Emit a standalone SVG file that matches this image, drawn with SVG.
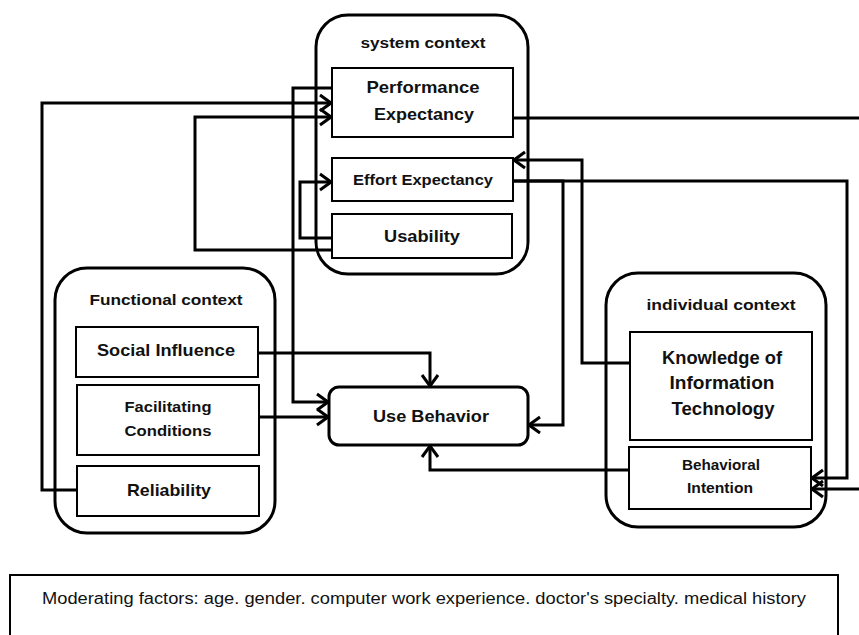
<svg xmlns="http://www.w3.org/2000/svg" width="859" height="635" viewBox="0 0 859 635">
<style>
.ctx{fill:#fff;stroke:#000;stroke-width:3}
.box{fill:#fff;stroke:#000;stroke-width:2}
.ub{fill:#fff;stroke:#000;stroke-width:3}
.c{fill:none;stroke:#000;stroke-width:3;stroke-linejoin:miter}
.t{font-family:"Liberation Sans",Arial,sans-serif;font-weight:bold;fill:#111;text-anchor:middle}
.m{font-family:"Liberation Sans",Arial,sans-serif;fill:#111}
</style>
<defs>
<marker id="ah" markerUnits="userSpaceOnUse" markerWidth="15" markerHeight="20" viewBox="0 0 15 20" refX="13" refY="10" orient="auto">
<path d="M2,2 L13,10 L2,18" fill="none" stroke="#000" stroke-width="3"/>
</marker>
</defs>
<g id="system-context">
<rect class="ctx" x="316" y="15" width="212" height="259" rx="32"/>
<text class="t" x="423" y="48" font-size="14" textLength="125" lengthAdjust="spacingAndGlyphs">system context</text>
</g>
<g id="functional-context">
<rect class="ctx" x="55" y="268" width="220" height="265" rx="32"/>
<text class="t" x="166" y="305" font-size="15" textLength="153" lengthAdjust="spacingAndGlyphs">Functional  context</text>
</g>
<g id="individual-context">
<rect class="ctx" x="606" y="273" width="220" height="254" rx="32"/>
<text class="t" x="721" y="310" font-size="15" textLength="149" lengthAdjust="spacingAndGlyphs">individual  context</text>
</g>
<g id="connectors">
<path class="c" d="M77,490 H42 V103 H331" marker-end="url(#ah)"/>
<path class="c" d="M332,250 H195 V117 H331" marker-end="url(#ah)"/>
<path class="c" d="M332,88 H293 V402 H328" marker-end="url(#ah)"/>
<path class="c" d="M332,238 H300 V182 H331" marker-end="url(#ah)"/>
<path class="c" d="M630,363 H582 V160 H514" marker-end="url(#ah)"/>
<path class="c" d="M513,181 H563 V425 H529" marker-end="url(#ah)"/>
<path class="c" d="M513,181 H847 V478 H812" marker-end="url(#ah)"/>
<path class="c" d="M513,118 H860"/>
<path class="c" d="M860,489 H812" marker-end="url(#ah)"/>
<path class="c" d="M258,353 H430 V386" marker-end="url(#ah)"/>
<path class="c" d="M259,417 H328" marker-end="url(#ah)"/>
<path class="c" d="M629,470 H430 V446" marker-end="url(#ah)"/>
</g>
<g id="performance-expectancy">
<rect class="box" x="332" y="68" width="181" height="69"/>
<text class="t" x="423" y="93" font-size="17" textLength="113" lengthAdjust="spacingAndGlyphs">Performance</text>
<text class="t" x="424" y="120" font-size="17" textLength="100" lengthAdjust="spacingAndGlyphs">Expectancy</text>
</g>
<g id="effort-expectancy">
<rect class="box" x="332" y="158" width="181" height="43"/>
<text class="t" x="423" y="185" font-size="15" textLength="140" lengthAdjust="spacingAndGlyphs">Effort Expectancy</text>
</g>
<g id="usability">
<rect class="box" x="332" y="214" width="180" height="44"/>
<text class="t" x="422" y="242" font-size="17" textLength="76" lengthAdjust="spacingAndGlyphs">Usability</text>
</g>
<g id="social-influence">
<rect class="box" x="76" y="327" width="182" height="50"/>
<text class="t" x="166" y="356" font-size="17" textLength="138" lengthAdjust="spacingAndGlyphs">Social Influence</text>
</g>
<g id="facilitating-conditions">
<rect class="box" x="77" y="385" width="182" height="70"/>
<text class="t" x="168" y="412" font-size="15" textLength="87" lengthAdjust="spacingAndGlyphs">Facilitating</text>
<text class="t" x="168" y="436" font-size="15" textLength="87" lengthAdjust="spacingAndGlyphs">Conditions</text>
</g>
<g id="reliability">
<rect class="box" x="77" y="466" width="182" height="50"/>
<text class="t" x="169" y="496" font-size="17" textLength="84" lengthAdjust="spacingAndGlyphs">Reliability</text>
</g>
<g id="use-behavior">
<rect class="ub" x="329" y="387" width="199" height="58" rx="10"/>
<text class="t" x="431" y="422" font-size="17" textLength="116" lengthAdjust="spacingAndGlyphs">Use Behavior</text>
</g>
<g id="knowledge-it">
<rect class="box" x="630" y="332" width="182" height="108"/>
<text class="t" x="722" y="364" font-size="18" textLength="120" lengthAdjust="spacingAndGlyphs">Knowledge of</text>
<text class="t" x="722" y="389" font-size="18" textLength="105" lengthAdjust="spacingAndGlyphs">Information</text>
<text class="t" x="723" y="415" font-size="18" textLength="103" lengthAdjust="spacingAndGlyphs">Technology</text>
</g>
<g id="behavioral-intention">
<rect class="box" x="629" y="447" width="182" height="62"/>
<text class="t" x="721" y="470" font-size="14" textLength="78" lengthAdjust="spacingAndGlyphs">Behavioral</text>
<text class="t" x="720" y="493" font-size="14" textLength="66" lengthAdjust="spacingAndGlyphs">Intention</text>
</g>
<g id="moderating-factors">
<rect x="10" y="575" width="828" height="80" fill="#fff" stroke="#000" stroke-width="2"/>
<text class="m" x="42" y="604" font-size="16" textLength="764" lengthAdjust="spacingAndGlyphs">Moderating factors: age. gender. computer work experience. doctor's specialty. medical history</text>
</g>
</svg>
